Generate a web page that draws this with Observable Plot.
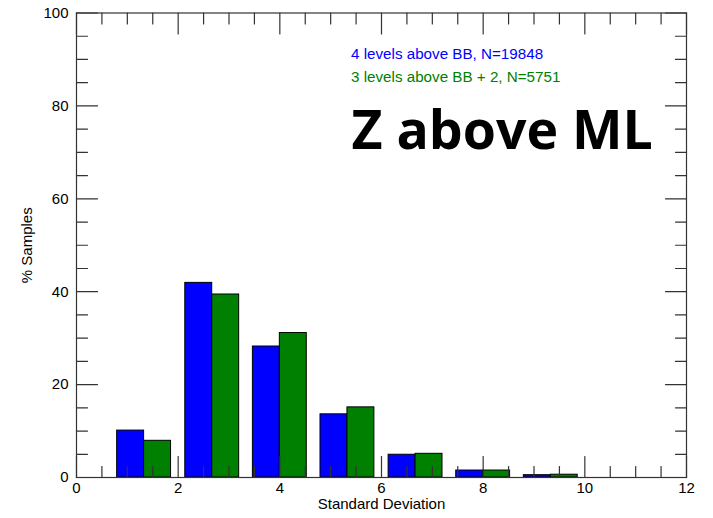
<!DOCTYPE html>
<html><head><meta charset="utf-8">
<script src="https://cdn.jsdelivr.net/npm/d3@7"></script>
<script src="https://cdn.jsdelivr.net/npm/@observablehq/plot@0.6"></script>
<style>html,body{margin:0;padding:0;background:#fff} #chart svg{display:block}</style>
</head><body><div id="chart"></div>
<script>
// ---- data ----
const binCenters = [1.33, 2.67, 4.0, 5.33, 6.67, 8.0, 9.33, 10.67];
const blueValues = [10.1, 41.9, 28.2, 13.6, 4.9, 1.5, 0.5, 0];
const greenValues = [7.9, 39.4, 31.1, 15.1, 5.1, 1.5, 0.6, 0];
const barWidth = 0.53;
const seriesNames = ["4 levels above BB, N=19848", "3 levels above BB + 2, N=5751"];
const seriesColors = ["#0000ff", "#008000"];
const chartTitle = "Z above ML";
const xLabel = "Standard Deviation";
const yLabel = "% Samples";
const xTicks = [0, 2, 4, 6, 8, 10, 12];
const xMinorTicks = [0.5, 1, 1.5, 2.5, 3, 3.5, 4.5, 5, 5.5, 6.5, 7, 7.5, 8.5, 9, 9.5, 10.5, 11, 11.5];
const yTicks = [0, 20, 40, 60, 80, 100];
const yMinorTicks = [5, 10, 15, 25, 30, 35, 45, 50, 55, 65, 70, 75, 85, 90, 95];

const blueBars = binCenters.map((c, i) => ({x1: c - barWidth, x2: c, y: blueValues[i]}));
const greenBars = binCenters.map((c, i) => ({x1: c, x2: c + barWidth, y: greenValues[i]}));

const tickShape = {draw(context, l) { context.moveTo(0, 0); context.lineTo(0, -l); }};
const font = "Liberation Sans, Arial, Helvetica, sans-serif";
const tickColor = "#333";

const ticks = (data, chan, frameAnchor, rotate, length) =>
  Plot.vector(data, {[chan]: d => d, frameAnchor, rotate, length, anchor: "start",
    shape: tickShape, stroke: tickColor, strokeWidth: 1.2});

const chart = Plot.plot({
  width: 713, height: 518,
  marginLeft: 76, marginRight: 27, marginTop: 12.5, marginBottom: 41,
  style: {fontFamily: font, fontSize: "15px", color: "#000", background: "#fff"},
  x: {domain: [0, 12]},
  y: {domain: [0, 100]},
  marks: [
    Plot.rectY(blueBars, {x1: "x1", x2: "x2", y: "y", fill: seriesColors[0], stroke: "#000", strokeWidth: 1}),
    Plot.rectY(greenBars, {x1: "x1", x2: "x2", y: "y", fill: seriesColors[1], stroke: "#000", strokeWidth: 1}),
    ticks(xTicks, "x", "bottom", 0, 21),
    ticks(xMinorTicks, "x", "bottom", 0, 11),
    ticks(xTicks, "x", "top", 180, 21),
    ticks(xMinorTicks, "x", "top", 180, 11),
    ticks(yTicks, "y", "left", 90, 21),
    ticks(yMinorTicks, "y", "left", 90, 11),
    ticks(yTicks, "y", "right", 270, 21),
    ticks(yMinorTicks, "y", "right", 270, 11),
    Plot.frame({stroke: tickColor, strokeWidth: 1.2}),
    Plot.axisX({ticks: xTicks, tickSize: 0, tickPadding: 4.5, label: null, fontSize: 15}),
    Plot.axisY({ticks: yTicks, tickSize: 0, tickPadding: 8, label: null, fontSize: 15}),
    Plot.text([xLabel], {frameAnchor: "bottom", textAnchor: "middle", lineAnchor: "middle", dy: 26.5, fontSize: 15}),
    Plot.text([yLabel], {frameAnchor: "left", textAnchor: "middle", lineAnchor: "middle", rotate: -90, dx: -49, fontSize: 15}),
    Plot.text([seriesNames[0]], {frameAnchor: "top-left", textAnchor: "start", lineAnchor: "middle", dx: 274.5, dy: 40.8, fill: seriesColors[0], fontSize: 15.2}),
    Plot.text([seriesNames[1]], {frameAnchor: "top-left", textAnchor: "start", lineAnchor: "middle", dx: 274.5, dy: 64.2, fill: seriesColors[1], fontSize: 15.2}),
    Plot.text([chartTitle], {frameAnchor: "top-left", textAnchor: "start", lineAnchor: "bottom", dx: 275, dy: 135.5, fill: "#000", fontSize: 53.6, fontWeight: 700, fontFamily: "Open Sans"})
  ]
});
document.getElementById("chart").appendChild(chart);
</script>
</body></html>
